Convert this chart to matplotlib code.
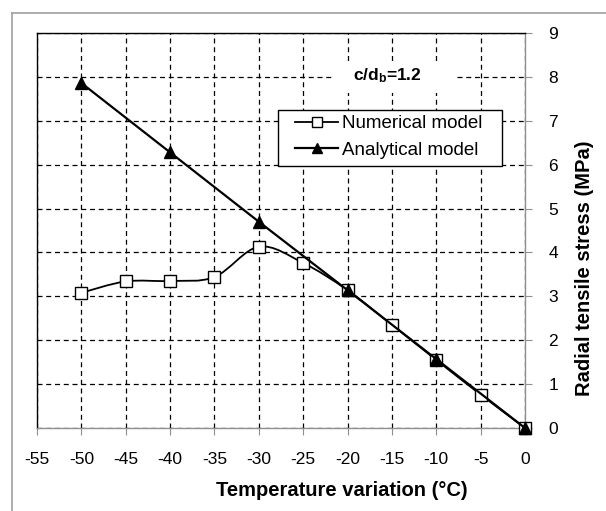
import matplotlib
matplotlib.use("Agg")
import matplotlib.pyplot as plt
from matplotlib.path import Path
from matplotlib.patches import PathPatch, Rectangle
from matplotlib.lines import Line2D

plt.rcParams["font.family"] = ["Liberation Sans", "DejaVu Sans"]
plt.rcParams["axes.unicode_minus"] = False
plt.rcParams["mathtext.fontset"] = "custom"
plt.rcParams["mathtext.rm"] = "Liberation Sans"
plt.rcParams["mathtext.bf"] = "Liberation Sans:bold"

# data
temp_num = [-50, -45, -40, -35, -30, -25, -20, -15, -10, -5, 0]
stress_num = [3.08, 3.34, 3.35, 3.44, 4.13, 3.76, 3.14, 2.35, 1.55, 0.76, 0.0]
temp_ana = [-50, -40, -30, -20, -10, 0]
stress_ana = [7.86, 6.28, 4.70, 3.14, 1.57, 0.0]
xticks = list(range(-55, 1, 5))
yticks = list(range(0, 10))

W, H = 606, 511
fig = plt.figure(figsize=(W / 100, H / 100), dpi=100)
ax = fig.add_axes([37 / W, 1 - 428 / H, 488 / W, 395 / H])


def fig_box(x0, y0, x1, y1, **kw):
    # rectangle given in pixel coords from the top-left corner
    return Rectangle((x0 / W, 1 - y1 / H), (x1 - x0) / W, (y1 - y0) / H,
                     transform=fig.transFigure, **kw)


# outer chart frame (only top/left visible in the crop)
fig.add_artist(Line2D([12 / W, 1], [1 - 12.7 / H] * 2, color="#a0a0a0", lw=1.2,
                      transform=fig.transFigure))
fig.add_artist(Line2D([12 / W] * 2, [0, 1 - 12.7 / H], color="#a0a0a0", lw=1.2,
                      transform=fig.transFigure))


# smoothed line like Excel (Catmull-Rom as cubic Bezier)
def smooth_path(xs, ys):
    pts = list(zip(xs, ys))
    n = len(pts)
    verts = [pts[0]]
    codes = [Path.MOVETO]
    for i in range(n - 1):
        p0 = pts[max(i - 1, 0)]
        p1 = pts[i]
        p2 = pts[i + 1]
        p3 = pts[min(i + 2, n - 1)]
        c1 = (p1[0] + (p2[0] - p0[0]) / 6, p1[1] + (p2[1] - p0[1]) / 6)
        c2 = (p2[0] - (p3[0] - p1[0]) / 6, p2[1] - (p3[1] - p1[1]) / 6)
        verts += [c1, c2, p2]
        codes += [Path.CURVE4] * 3
    return Path(verts, codes)


ax.add_patch(PathPatch(smooth_path(temp_num, stress_num), fill=False,
                       edgecolor="black", lw=1.3, zorder=3))
ax.plot(temp_num, stress_num, ls="none", marker="s", ms=8, mfc="white",
        mec="black", mew=1.0, zorder=4, clip_on=False)
ax.plot(temp_ana, stress_ana, color="black", lw=1.6, marker="^", ms=8,
        mfc="black", mec="black", zorder=5, clip_on=False)

ax.set_xlim(-55, 0)
ax.set_ylim(0, 9)
ax.set_xticks(xticks)
ax.set_yticks(yticks)
ax.yaxis.tick_right()
ax.grid(True, color="black", ls=(0, (4, 3)), lw=0.9)
ax.set_axisbelow(True)
for s in ["left", "top"]:
    ax.spines[s].set_color("black")
    ax.spines[s].set_linewidth(1.0)
for s in ["right", "bottom"]:
    ax.spines[s].set_color("#909090")
    ax.spines[s].set_linewidth(1.0)
ax.tick_params(axis="x", direction="out", length=5, color="#909090",
               labelsize=12.5, pad=12)
ax.tick_params(axis="y", direction="out", length=5, color="#909090",
               labelsize=12.5, pad=12)

fig.text(342 / W, 1 - 490 / H, "Temperature variation (°C)", ha="center",
         va="center", fontsize=14.5, fontweight="bold")
fig.text(585 / W, 1 - 268 / H, "Radial tensile stress (MPa)", ha="center",
         va="center", rotation=90, fontsize=14.5, fontweight="bold")

# annotation with white background cutting the grid
fig.add_artist(fig_box(333, 63, 455, 93, facecolor="white", edgecolor="none",
                       zorder=2))
fig.text(387 / W, 1 - 76 / H, r"c/d$\mathbf{_b}$=1.2", ha="center",
         va="center", fontsize=12.5, fontweight="bold", zorder=6)

# legend frame drawn separately to match the Excel box
fig.add_artist(fig_box(278, 110, 502, 166, facecolor="white", edgecolor="black",
                       lw=1.0, zorder=6))
handles = [Line2D([], [], color="black", lw=1.3, marker="s", ms=7, mfc="white", mec="black"),
           Line2D([], [], color="black", lw=1.6, marker="^", ms=7, mfc="black", mec="black")]
leg = fig.legend(handles, ["Numerical model", "Analytical model"],
                 loc="upper left", bbox_to_anchor=(295 / W, 1 - 115 / H),
                 frameon=False, fontsize=13.5,
                 handlelength=2.3, handletextpad=0.2, borderpad=0,
                 labelspacing=0.5, borderaxespad=0)
leg.set_zorder(7)

fig.savefig("out.png", dpi=100)
